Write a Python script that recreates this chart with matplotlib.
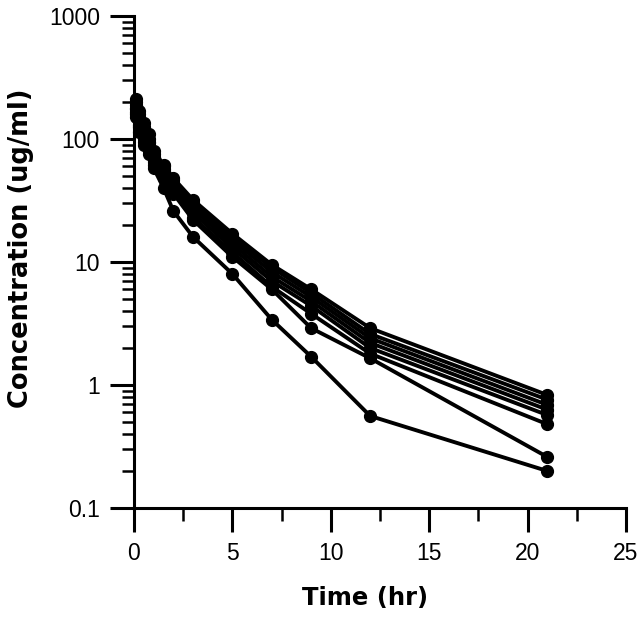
import matplotlib
matplotlib.use("Agg")
import matplotlib.pyplot as plt
from matplotlib.ticker import FixedLocator, LogLocator, NullFormatter

times = [0.083, 0.25, 0.5, 0.75, 1, 1.5, 2, 3, 5, 7, 9, 12, 21]

s1 = [210, 170, 135, 110, 80, 62, 48, 32, 17, 9.5, 6.0, 2.9, 0.83]
s2 = [200, 160, 125, 100, 75, 60, 46, 30, 16, 9.0, 5.6, 2.6, 0.76]
s3 = [190, 150, 118, 95, 72, 57, 44, 28, 15, 8.3, 5.2, 2.4, 0.69]
s4 = [180, 145, 112, 92, 70, 55, 42, 27, 14, 7.6, 4.8, 2.2, 0.63]
s5 = [175, 140, 108, 88, 68, 53, 40, 25, 13, 7.0, 4.4, 2.0, 0.57]
s6 = [165, 130, 100, 84, 65, 50, 38, 23, 12, 6.3, 3.8, 1.8, 0.48]
s7 = [160, 125, 95, 80, 62, 48, 36, 22, 11, 6.0, 2.9, 1.65, 0.26]
s8 = [150, 115, 90, 75, 58, 40, 26, 16, 8.0, 3.4, 1.7, 0.56, 0.20]
subjects = [s1, s2, s3, s4, s5, s6, s7, s8]

x_ticks = [0, 5, 10, 15, 20, 25]
y_ticks = [0.1, 1, 10, 100, 1000]
y_ticklabels = ["0.1", "1", "10", "100", "1000"]

fig = plt.figure(figsize=(6.43, 6.22), dpi=100)
ax = fig.add_axes([134/643, 1 - 508/622, 492/643, 492/622])

for s in subjects:
    ax.plot(times, s, color="black", lw=2.8, marker="o", ms=8.5,
            markeredgecolor="black", markerfacecolor="black", clip_on=False)

ax.set_yscale("log")
ax.set_xlim(0, 25)
ax.set_ylim(0.1, 1000)

ax.spines["top"].set_visible(False)
ax.spines["right"].set_visible(False)
for sp in ("left", "bottom"):
    ax.spines[sp].set_linewidth(2.2)

ax.xaxis.set_major_locator(FixedLocator(x_ticks))
ax.xaxis.set_minor_locator(FixedLocator([2.5, 7.5, 12.5, 17.5, 22.5]))
ax.set_xticklabels([str(t) for t in x_ticks])
ax.yaxis.set_major_locator(FixedLocator(y_ticks))
ax.set_yticklabels(y_ticklabels)
ax.yaxis.set_minor_locator(LogLocator(base=10, subs=range(2, 10)))
ax.yaxis.set_minor_formatter(NullFormatter())

ax.tick_params(which="major", length=17.5, width=2.2, direction="out", pad=7,
               labelsize=16.5)
ax.tick_params(which="minor", length=9, width=1.8, direction="out")
for lbl in ax.get_xticklabels() + ax.get_yticklabels():
    lbl.set_fontfamily("Liberation Sans")

fig.text(21/643, 1 - 248/622, "Concentration (ug/ml)", rotation=90,
         ha="center", va="center", fontsize=18.5, fontweight="bold",
         family="DejaVu Sans")
fig.text(365/643, 1 - 598/622, "Time (hr)", ha="center", va="center",
         fontsize=17.5, fontweight="bold", family="DejaVu Sans")

fig.savefig("out.png", dpi=100)
